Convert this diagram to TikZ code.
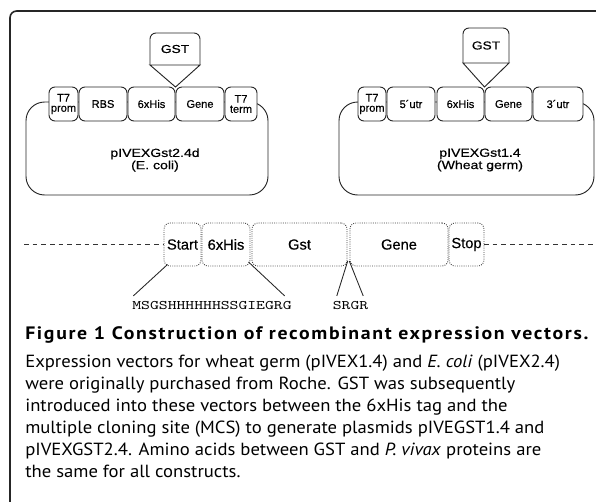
\documentclass[tikz,border=0pt]{standalone}
\usepackage{fontspec}
\usepackage{graphicx}
\setmainfont{PT Sans}[FakeStretch=1.06]
\newfontfamily\partfont[FakeBold=0.4]{Liberation Sans}
\newfontfamily\widefont[FakeStretch=1.2,FakeBold=0.5]{Liberation Sans}
\newfontfamily\headfont[FakeStretch=1.1,LetterSpace=9.3]{PT Sans Bold}
\usetikzlibrary{calc}

% box given by its name, left/right x and top/bottom y (in px)
\newcommand\partbox[7]{%
  \node[#1, minimum width={(#4-#3)*0.75pt}, minimum height={(#6-#5)*0.75pt}]
    (#2) at ({(#3+#4)/2},{(#5+#6)/2}) {#7};}
% amino-acid sequence in a wide typewriter face
\newcommand\aaseq[1]{\scalebox{1.29}[1]{\ttfamily\fontsize{9.8}{10}\selectfont #1}}

\tikzset{
  frame/.style={draw=black!85, line width=1.2pt},
  partline/.style={draw=black!85, line width=0.7pt},
  part/.style={partline, fill=white, rounded corners=4.5pt, inner sep=0pt,
    outer sep=0pt, align=center, font=\partfont\fontsize{8.3}{7.6}\selectfont},
  plasmid/.style={partline, rounded corners=14pt, inner sep=0pt, outer sep=0pt},
  namelbl/.style={align=center, inner sep=0pt,
    font=\widefont\fontsize{8.8}{7.8}\selectfont},
  gstlbl/.style={inner sep=0pt, outer sep=0pt,
    font=\widefont\fontsize{8.6}{9}\selectfont},
  orf/.style={draw=black!75, line width=0.65pt, densely dotted, rounded corners=4.5pt,
    inner sep=0pt, outer sep=0pt, font=\partfont\fontsize{11}{12}\selectfont},
  dashline/.style={draw=black!80, line width=0.65pt, dash pattern=on 3.5pt off 3pt},
  conn/.style={draw=black!85, line width=0.65pt},
  seq/.style={inner sep=0pt, outer sep=0pt},
  capline/.style={anchor=base west, inner sep=0pt, font=\fontsize{13.2}{15}\selectfont},
}

\begin{document}
\begin{tikzpicture}[x=0.75pt, y=-0.75pt]
\useasboundingbox (0,0) rectangle (596,501);

% outer frame (left and top edges)
\draw[frame, rounded corners=5pt] (10,503) -- (10,11) -- (598,11);

% ---- E. coli vector ----
\partbox{plasmid}{vecL}{26}{268}{102}{195}{}
\partbox{part}{promL}{49}{78}{87}{121}{T7\\prom}
\partbox{part}{rbsL}{79}{127}{87}{121}{RBS}
\partbox{part}{hisL}{128}{175}{87}{121}{6xHis}
\partbox{part}{geneL}{176}{224}{87}{121}{Gene}
\partbox{part}{termL}{225}{257}{87}{121}{T7\\term}
\partbox{gstlbl}{gstL}{150}{200}{33}{65}{GST}
\coordinate (tipL) at ($(hisL.north east)!0.5!(geneL.north west)$);
\draw[partline, rounded corners=4.5pt] (gstL.south west) -- (gstL.north west)
  -- (gstL.north east) -- (gstL.south east);
\draw[partline] (gstL.south west) -- (tipL) -- (gstL.south east) -- cycle;
\node[namelbl] (nameL) at (155,160) {pIVEXGst2.4d\\(E. coli)};

% ---- wheat germ vector ----
\partbox{plasmid}{vecR}{339}{594}{102}{195}{}
\partbox{part}{promR}{358}{386}{87}{121}{T7\\prom}
\partbox{part}{utrfR}{387}{435}{87}{121}{5´utr}
\partbox{part}{hisR}{437}{484}{87}{121}{6xHis}
\partbox{part}{geneR}{485}{532}{87}{121}{Gene}
\partbox{part}{utrtR}{533}{583}{87}{121}{3´utr}
\partbox{gstlbl}{gstR}{463}{509}{28}{63}{GST}
\coordinate (tipR) at ($(hisR.north east)!0.5!(geneR.north west)$);
\draw[partline, rounded corners=4.5pt] (gstR.south west) -- (gstR.north west)
  -- (gstR.north east) -- (gstR.south east);
\draw[partline] (gstR.south west) -- (tipR) -- (gstR.south east) -- cycle;
\node[namelbl] (nameR) at (480,160) {pIVEXGst1.4\\(Wheat germ)};

% ---- fusion construct ----
\partbox{orf}{start}{164}{201}{223}{266}{Start}
\partbox{orf}{his}{202}{250}{223}{266}{6xHis}
\partbox{orf}{gst}{252}{347}{223}{266}{Gst}
\partbox{orf}{gene}{350}{448}{223}{266}{Gene}
\partbox{orf}{stop}{449}{484}{223}{266}{Stop}
\coordinate (dashL) at (24,244.5);
\coordinate (dashR) at (597,244.5);
\draw[dashline] (dashL) -- (start.west);
\draw[dashline] (stop.east) -- (dashR);

\node[seq] (seqtxt) at (212,305) {\aaseq{MSGSHHHHHHSSGIEGRG}};
\node[seq] (srgr) at (350.5,305) {\aaseq{SRGR}};
\draw[conn] ($(start.south west)+(3.5,-1.5)$) -- ($(seqtxt.north west)+(1,-5)$);
\draw[conn] ($(his.south east)+(-1.5,-4)$) -- ($(seqtxt.north east)+(-7,-5)$);
\coordinate (jn) at ($(gst.south east)!0.5!(gene.south west)+(0,-5)$);
\draw[conn] ($(jn)+(-0.8,0)$) -- ($(srgr.north west)+(4,-5)$);
\draw[conn] ($(jn)+(0.8,0)$) -- ($(srgr.north east)+(-5,-5)$);

% ---- caption ----
\node[capline, font=\headfont\fontsize{13.5}{15}\selectfont] (cap0) at (25,339)
  {Figure 1 Construction of recombinant expression vectors.};
\node[capline] (cap1) at (25,367)
  {Expression vectors for wheat germ (pIVEX1.4) and \textit{E. coli} (pIVEX2.4)};
\node[capline] (cap2) at (25,389)
  {were originally purchased from Roche. GST was subsequently};
\node[capline] (cap3) at (25,411)
  {introduced into these vectors between the 6xHis tag and the};
\node[capline] (cap4) at (25,433)
  {multiple cloning site (MCS) to generate plasmids pIVEGST1.4 and};
\node[capline] (cap5) at (25,455)
  {pIVEXGST2.4. Amino acids between GST and \textit{P. vivax} proteins are};
\node[capline] (cap6) at (25,477)
  {the same for all constructs.};
\end{tikzpicture}
\end{document}
